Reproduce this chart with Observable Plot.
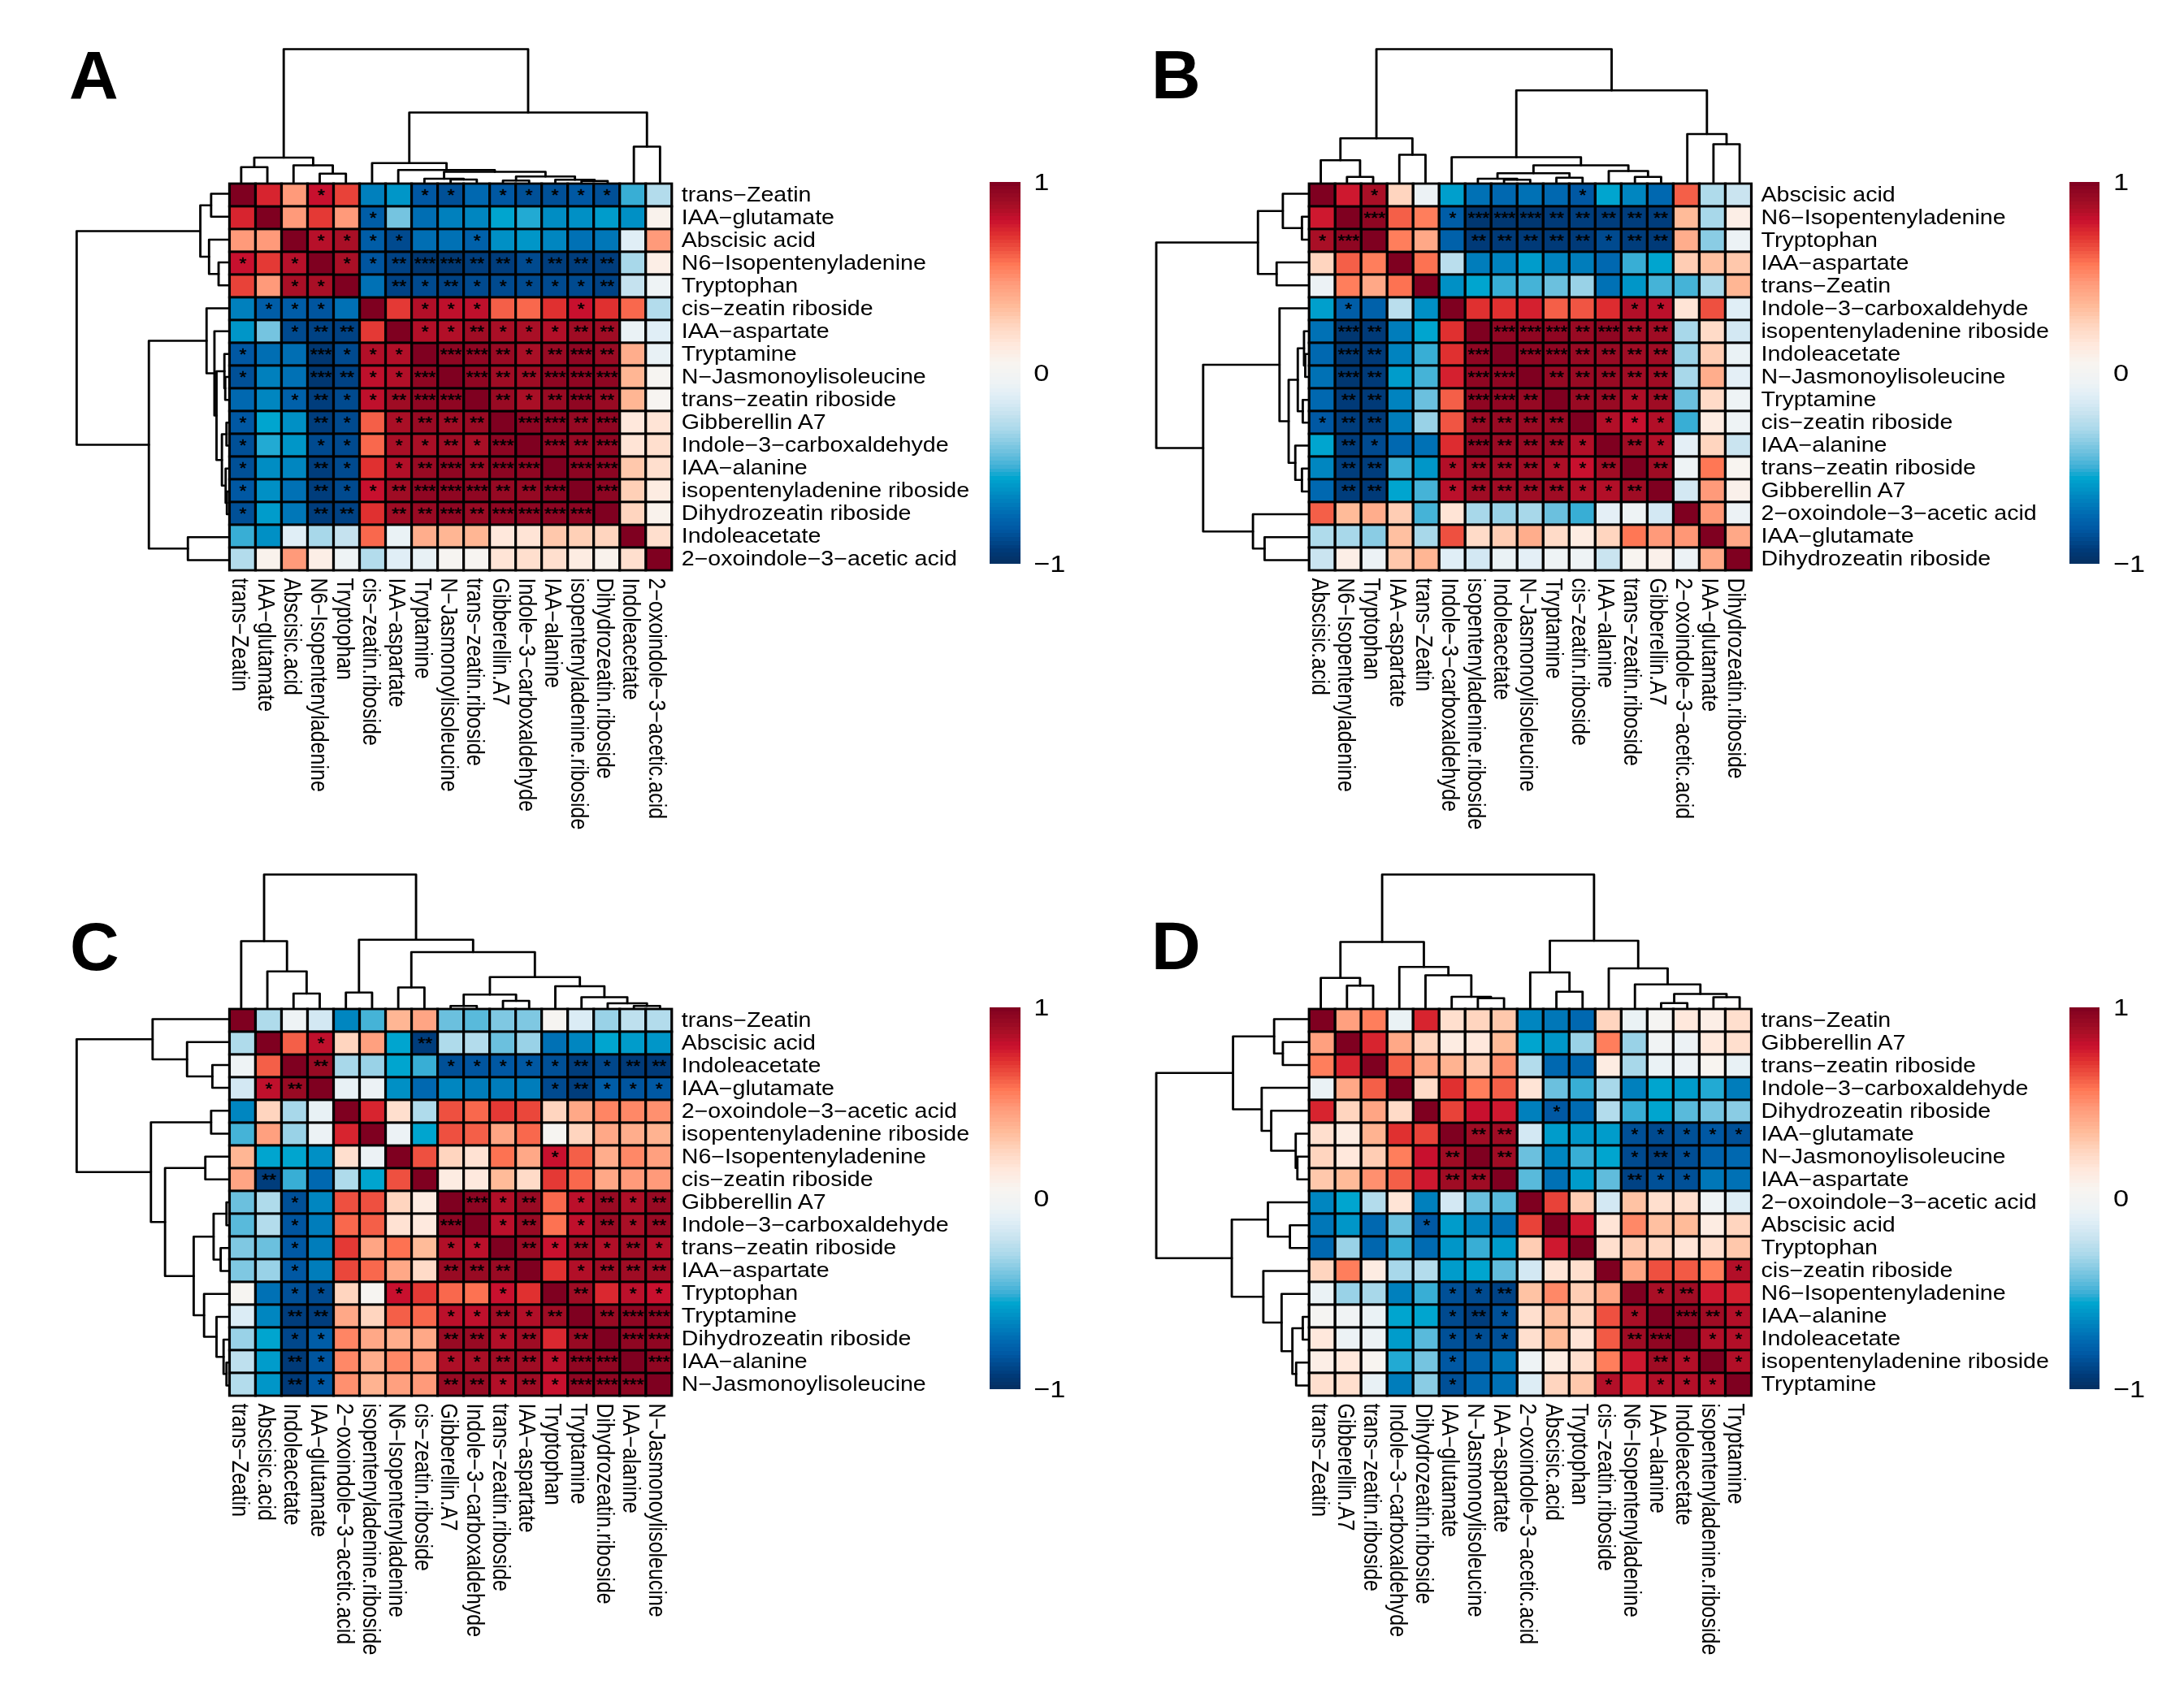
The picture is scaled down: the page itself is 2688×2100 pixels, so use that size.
<!DOCTYPE html>
<html lang="en">
<head>
<meta charset="utf-8">
<title>Correlation heatmaps A–D</title>
<script src="https://cdn.jsdelivr.net/npm/d3@7"></script>
<script src="https://cdn.jsdelivr.net/npm/@observablehq/plot@0.6"></script>
<style>
html,body{margin:0;padding:0;background:#fff;width:2688px;height:2100px;overflow:hidden}
#stage{position:absolute;left:0;top:0;height:2100px;transform-origin:0 0}
.letter{position:absolute;font:bold 84px/84px "Liberation Sans",Arial,sans-serif;color:#000}
</style>
</head>
<body>
<script>
// ---------- names in clustered order ----------
const A_names = ["trans−Zeatin","IAA−glutamate","Abscisic acid","N6−Isopentenyladenine","Tryptophan","cis−zeatin riboside","IAA−aspartate","Tryptamine","N−Jasmonoylisoleucine","trans−zeatin riboside","Gibberellin A7","Indole−3−carboxaldehyde","IAA−alanine","isopentenyladenine riboside","Dihydrozeatin riboside","Indoleacetate","2−oxoindole−3−acetic acid"];
const B_names = ["Abscisic acid","N6−Isopentenyladenine","Tryptophan","IAA−aspartate","trans−Zeatin","Indole−3−carboxaldehyde","isopentenyladenine riboside","Indoleacetate","N−Jasmonoylisoleucine","Tryptamine","cis−zeatin riboside","IAA−alanine","trans−zeatin riboside","Gibberellin A7","2−oxoindole−3−acetic acid","IAA−glutamate","Dihydrozeatin riboside"];
const C_names = ["trans−Zeatin","Abscisic acid","Indoleacetate","IAA−glutamate","2−oxoindole−3−acetic acid","isopentenyladenine riboside","N6−Isopentenyladenine","cis−zeatin riboside","Gibberellin A7","Indole−3−carboxaldehyde","trans−zeatin riboside","IAA−aspartate","Tryptophan","Tryptamine","Dihydrozeatin riboside","IAA−alanine","N−Jasmonoylisoleucine"];
const D_names = ["trans−Zeatin","Gibberellin A7","trans−zeatin riboside","Indole−3−carboxaldehyde","Dihydrozeatin riboside","IAA−glutamate","N−Jasmonoylisoleucine","IAA−aspartate","2−oxoindole−3−acetic acid","Abscisic acid","Tryptophan","cis−zeatin riboside","N6−Isopentenyladenine","IAA−alanine","Indoleacetate","isopentenyladenine riboside","Tryptamine"];

// ---------- correlations: upper triangle, row i starts at column i+1 ----------
const A_values = [
[.75,.47,.8,.68,-.67,-.6,-.82,-.85,-.75,-.82,-.85,-.85,-.82,-.85,-.5,-.27],
[.47,.7,.47,-.8,-.4,-.73,-.67,-.65,-.55,-.52,-.63,-.62,-.58,-.62,.07],
[.84,.87,-.8,-.87,-.73,-.72,-.78,-.62,-.6,-.65,-.72,-.7,-.12,.47],
[.87,-.83,-.9,-.95,-.95,-.92,-.92,-.87,-.92,-.92,-.92,-.3,.1],
[-.72,-.9,-.87,-.9,-.87,-.87,-.87,-.87,-.87,-.9,-.22,-.05],
[.7,.85,.82,.82,.62,.6,.72,.8,.72,.6,-.27],
[.85,.85,.9,.87,.87,.85,.9,.9,-.07,-.12],
[.95,.95,.92,.87,.92,.95,.92,.4,-.08],
[.95,.9,.9,.95,.95,.95,.37,.03],
[.92,.87,.92,.95,.92,.37,.04],
[.96,.96,.93,.95,.15,.17],
[.95,.93,.95,.17,.2],
[.96,.96,.3,.2],
[.96,.27,.12],
[.25,.07],
[.2]];
const B_values = [
[.78,.87,.25,-.06,-.57,-.72,-.75,-.72,-.75,-.82,-.55,-.65,-.75,.62,-.28,-.2],
[.95,.62,.55,-.8,-.95,-.95,-.95,-.93,-.92,-.92,-.92,-.92,.35,-.3,.1],
[.55,.42,-.78,-.93,-.93,-.93,-.93,-.93,-.87,-.92,-.93,.4,-.36,-.06],
[.58,-.25,-.68,-.66,-.58,-.66,-.68,-.75,-.5,-.55,.28,.33,.3],
[-.62,-.55,-.5,-.48,-.42,-.33,-.72,-.6,-.48,-.48,-.3,.37],
[.72,.72,.76,.62,.64,.73,.85,.83,.17,.65,-.12],
[.95,.95,.95,.92,.95,.9,.9,-.3,.22,-.17],
[.95,.95,.92,.92,.9,.9,-.33,.28,-.07],
[.93,.92,.92,.9,.9,-.3,.4,-.1],
[.92,.92,.86,.9,-.42,.22,-.05],
[.85,.8,.85,-.5,.12,-.05],
[.9,.85,-.1,.25,-.2],
[.9,-.05,.57,.05],
[-.17,.47,.08],
[.48,-.06],
[.42]];
const C_values = [
[-.28,-.05,-.17,-.65,-.48,.37,.43,-.42,-.45,-.38,-.38,.03,-.14,-.33,-.24,-.27],
[.62,.82,.25,.45,-.55,-.92,-.28,-.27,-.42,-.33,-.72,-.65,-.55,-.58,-.6],
[.92,-.3,-.33,-.55,-.5,-.85,-.83,-.82,-.82,-.85,-.92,-.88,-.93,-.93],
[-.08,-.06,-.62,-.75,-.65,-.68,-.68,-.68,-.87,-.92,-.8,-.83,-.82],
[.75,.2,-.28,.65,.6,.7,.67,.25,.42,.53,.52,.5],
[-.06,-.55,.65,.62,.43,.6,.03,.25,.42,.4,.38],
[.65,.25,.18,.58,.42,.8,.62,.4,.52,.45],
[.12,.14,.35,.22,.7,.6,.42,.47,.47],
[.96,.85,.92,.6,.83,.92,.86,.92],
[.83,.92,.58,.82,.92,.87,.92],
[.92,.8,.9,.85,.9,.85],
[.72,.85,.9,.9,.9],
[.9,.74,.83,.8],
[.92,.95,.95],
[.95,.95],
[.95]];
const D_values = [
[.45,.55,-.07,.75,.2,.25,.3,-.65,-.7,-.75,.25,-.07,.02,.15,.1,.2],
[.75,.42,.25,.12,.15,.35,-.55,-.6,-.33,.55,-.33,-.03,-.06,.15,.2],
[.62,.43,.38,.28,.5,-.27,-.75,-.76,.12,-.3,-.07,-.06,.05,-.08],
[.22,.72,.55,.62,.17,-.42,-.5,-.3,-.67,-.55,-.58,-.52,-.68],
[.68,.8,.78,-.67,-.82,-.74,-.27,-.5,-.55,-.45,-.4,-.36],
[.9,.9,-.17,-.58,-.6,-.58,-.85,-.87,-.85,-.82,-.85],
[.9,-.42,-.65,-.5,-.55,-.87,-.92,-.86,-.77,-.75],
[-.45,-.72,-.58,-.44,-.9,-.85,-.85,-.7,-.72],
[.68,.28,-.17,.32,.2,.2,-.05,-.13],
[.78,.17,.52,.33,.35,.12,.25],
[.2,.28,.24,.17,.2,.3],
[.43,.65,.63,.55,.85],
[.87,.9,.78,.76],
[.95,.9,.85],
[.85,.85],
[.85]];

// ---------- significance stars per cell, same layout as the values ----------
const A_stars = ["0010001101111100","000100000000000","11110010000000","1123322122200","021211111200","01110001000","1121112200","332123200","32233300","2123200","332300","32300","3300","300","00","0"];
const B_stars = ["0100000001000000","300133322222000","00022222122000","0000000000000","000000000000","00000011000","3332322000","332222000","22222000","2212000","111000","21000","2000","000","00","0"];
const C_stars = ["0000000000000000","010002000000000","20000111112122","0000000012111","000000000000","00000000000","0000010000","000000000","31201212","1201212","212121","01222","2011","233","33","3"];
const D_stars = ["0000000000000000","000000000000000","00000000000000","0000000000000","000010000000","22000011111","2000012100","000021100","00000000","0000000","000000","00001","1200","321","11","1"];

// ---------- dendrograms: [height, left, right], integers are leaves ----------
const A_tree = [366,[68,[42,0,1],[47,2,[24,3,4]]],[192,[53,5,[34,6,[29,[10,7,[8,8,9]],[16,[5,10,11],[7,12,[4,13,14]]]]]],[98,15,16]]];
const B_tree = [366,[121,[61,0,[15,1,2]],[76,3,4]],[253,[69,5,[47,[25,[10,6,[7,7,8]],[13,9,10]],[31,11,[15,12,13]]]],[133,14,[105,15,16]]]];
const C_tree = [366,[183,0,[100,1,[39,2,3]]],[187,[42,4,5],[153,[56,6,7],[84,[36,[5,8,9],[19,10,11]],[59,12,[29,13,[12,14,[5,15,16]]]]]]]];
const D_tree = [366,[181,[82,0,[61,1,2]],[112,3,[89,4,[30,5,[26,6,7]]]]],[184,[97,8,[44,9,10]],[108,11,[64,12,[38,[13,13,14],[29,15,16]]]]]];

// ---------- colour ramp ----------
const rampStops = [-1,-.93,-.87,-.82,-.75,-.67,-.62,-.55,-.5,-.44,-.36,-.3,-.22,-.12,-.05,.05,.15,.25,.35,.47,.57,.65,.72,.8,.88,1];
const rampColors = ["#053061","#003a78","#004a8f","#0058a3","#0068b0","#0080bd","#0090c5","#00a5cf","#38aed5","#60bcdc","#8accE4","#a8d8ea","#c5e2ef","#e0eef6","#eef3f5","#f8f4f0","#ffe8dc","#ffd5bf","#ffbb99","#ff9a7a","#ff7755","#ee5040","#e03030","#c8102e","#a50f25","#7f0020"];
const colorOptions = {type:"linear", domain:rampStops, range:rampColors};
const legendSteps = d3.range(-1, 1, 0.02);
const legendTicks = [-1, 0, 1];

// ---------- layout ----------
const STRETCH = 1.1435;            // the reference is wider than it is tall
const stage = document.createElement("div");
stage.id = "stage";
stage.style.width = (2688 / STRETCH) + "px";
stage.style.transform = `scaleX(${STRETCH})`;
document.body.append(stage);

const SIDE = 479, TOPH = 164, LEFTW = 163.5, FONT = '"Liberation Sans",Arial,sans-serif';
const panels = [
  {letter:"A", names:A_names, values:A_values, stars:A_stars, tree:A_tree, px:280.4, py:224, lx:85,   base:122},
  {letter:"B", names:B_names, values:B_values, stars:B_stars, tree:B_tree, px:1609,  py:224, lx:1417, base:121},
  {letter:"C", names:C_names, values:C_values, stars:C_stars, tree:C_tree, px:280.4, py:1240, lx:86,  base:1194},
  {letter:"D", names:D_names, values:D_values, stars:D_stars, tree:D_tree, px:1609,  py:1240, lx:1417, base:1193}
];

function place(svg, left, top){
  Object.assign(svg.style, {position:"absolute", left:left+"px", top:top+"px", maxWidth:"none", background:"transparent", overflow:"visible", fontFamily:FONT});
  stage.append(svg);
}
function cellsOf(p){
  const n = p.names.length, out = [];
  for (let i=0;i<n;i++) out.push({r:p.names[i], c:p.names[i], v:1, s:0});
  p.values.forEach((row,i)=>row.forEach((v,k)=>{
    const j=i+1+k, s=+p.stars[i][k];
    out.push({r:p.names[i], c:p.names[j], v, s});
    out.push({r:p.names[j], c:p.names[i], v, s});
  }));
  return out;
}
function treeLines(tree){
  const pts=[]; let id=0;
  (function walk(t){
    if (typeof t==="number") return {pos:t+.5, h:0};
    const a=walk(t[1]), b=walk(t[2]), k=id++;
    pts.push({id:k,pos:a.pos,h:a.h},{id:k,pos:a.pos,h:t[0]},{id:k,pos:b.pos,h:t[0]},{id:k,pos:b.pos,h:b.h});
    return {pos:(a.pos+b.pos)/2, h:t[0]};
  })(tree);
  return pts;
}

for (const p of panels){
  const x0=p.px/STRETCH, y0=p.py, cells=cellsOf(p), lines=treeLines(p.tree), n=p.names.length;
  // heatmap
  place(Plot.plot({
    width:SIDE+2+330, height:SIDE+2+330, marginLeft:2, marginTop:2, marginRight:330, marginBottom:330,
    x:{type:"band", domain:p.names, padding:0, label:null},
    y:{type:"band", domain:p.names, padding:0, label:null},
    color:colorOptions,
    marks:[
      Plot.cell(cells,{x:"c",y:"r",fill:"v",stroke:"#000",strokeWidth:2.8}),
      Plot.text(cells.filter(d=>d.s>0),{x:"c",y:"r",text:d=>"*".repeat(d.s),fontSize:20,fill:"#000",stroke:"#000",strokeWidth:.5}),
      Plot.axisX({anchor:"bottom",tickSize:0,tickPadding:8,tickRotate:90,fontSize:25,label:null,dx:-3,tickFormat:d=>d.replace(" ",".")}),
      Plot.axisY({anchor:"right",tickSize:0,tickPadding:9,fontSize:25,label:null,dy:-0.5})
    ]
  }), x0-2, y0-2);
  // column dendrogram
  place(Plot.plot({
    width:SIDE+4, height:TOPH+3, marginLeft:2, marginRight:2, marginTop:2, marginBottom:1,
    x:{domain:[0,n],axis:null}, y:{domain:[0,366],axis:null},
    marks:[Plot.line(lines,{x:"pos",y:"h",z:"id",stroke:"#000",strokeWidth:2.5})]
  }), x0-2, y0-TOPH-2);
  // row dendrogram
  place(Plot.plot({
    width:LEFTW+3, height:SIDE+4, marginLeft:2, marginRight:1, marginTop:2, marginBottom:2,
    x:{domain:[366,0],axis:null}, y:{domain:[n,0],axis:null},
    marks:[Plot.line(lines,{x:"h",y:"pos",z:"id",stroke:"#000",strokeWidth:2.5})]
  }), x0-LEFTW-2, y0-2);
  // colour bar
  place(Plot.plot({
    width:33+70, height:470+40, marginLeft:0, marginRight:70, marginTop:20, marginBottom:20,
    x:{domain:[0,1],axis:null}, y:{domain:[-1,1],label:null},
    color:colorOptions,
    marks:[
      Plot.rect(legendSteps,{x1:0,x2:1,y1:d=>d,y2:d=>d+.02,fill:d=>d+.01,shapeRendering:"crispEdges"}),
      Plot.axisY({anchor:"right",ticks:legendTicks,tickSize:0,tickPadding:14,fontSize:30,label:null,tickFormat:d=>d<0?"−"+(-d):String(d)})
    ]
  }), (p.px+937.6)/STRETCH, y0-20);
  // panel letter
  const L=document.createElement("div");
  L.className="letter"; L.textContent=p.letter;
  L.style.left=p.lx+"px"; L.style.top=(p.base-71)+"px";
  document.body.append(L);
}
</script>
</body>
</html>
